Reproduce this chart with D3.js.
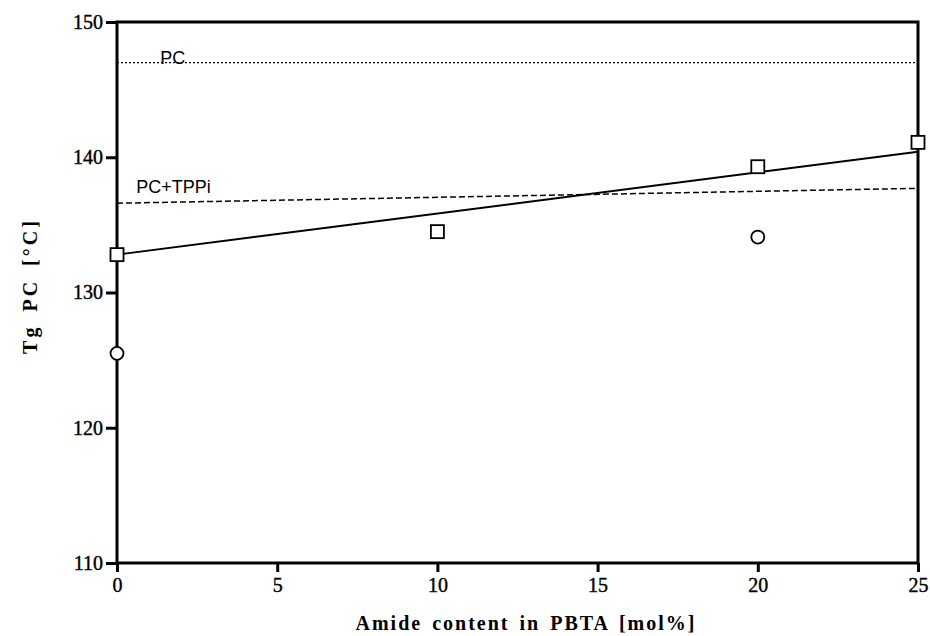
<!DOCTYPE html>
<html><head><meta charset="utf-8">
<script src="https://cdn.jsdelivr.net/npm/d3@7"></script>
<style>body{margin:0;background:#fff}svg{display:block}</style>
</head><body>
<script>
const xTicks = [0, 5, 10, 15, 20, 25];
const yTicks = [110, 120, 130, 140, 150];
const squareX = [0, 10, 20, 25];
const squareY = [132.8, 134.5, 139.3, 141.1];
const circleX = [0, 20];
const circleY = [125.5, 134.1];
const fitX = [0, 25];
const fitY = [132.8, 140.4];
const pcX = [0, 25];
const pcY = [147.0, 147.0];
const tppiX = [0, 25];
const tppiY = [136.6, 137.7];
const refLabels = ["PC", "PC+TPPi"];
const xTitle = "Amide content in PBTA [mol%]";
const yTitle = "Tg PC [°C]";

const W = 930, H = 636;
const m = {left: 117, right: 12, top: 22, bottom: 73};
const svg = d3.select("body").append("svg").attr("width", W).attr("height", H);
const x = d3.scaleLinear().domain([0, 25]).range([m.left, W - m.right]);
const y = d3.scaleLinear().domain([110, 150]).range([H - m.bottom, m.top]);

const serif = "'Liberation Serif','Times New Roman',serif";
const sans = "'Liberation Sans',Arial,sans-serif";

// axes
const xAxis = svg.append("g").attr("transform", `translate(0,${y(110)})`)
  .call(d3.axisBottom(x).tickValues(xTicks).tickSize(9).tickPadding(6).tickFormat(d3.format("d")));
const yAxis = svg.append("g").attr("transform", `translate(${x(0)},0)`)
  .call(d3.axisLeft(y).tickValues(yTicks).tickSize(11).tickPadding(3).tickFormat(d3.format("d")));
[xAxis, yAxis].forEach(g => {
  g.attr("font-family", serif).attr("font-size", 20);
  g.select(".domain").remove();
  g.selectAll(".tick line").attr("stroke", "#000").attr("stroke-width", 3);
  g.selectAll(".tick text").attr("fill", "#000").attr("stroke", "#000").attr("stroke-width", 0.4)
    .style("font-family", serif).style("font-size", "20px");
});
// frame
svg.append("rect").attr("x", x(0)).attr("y", y(150)).attr("width", x(25) - x(0)).attr("height", y(110) - y(150))
  .attr("fill", "none").attr("stroke", "#000").attr("stroke-width", 3);

const line = d3.line().x(d => x(d[0])).y(d => y(d[1]));
svg.append("path").datum(d3.zip(pcX, pcY)).attr("d", line)
  .attr("fill", "none").attr("stroke", "#000").attr("stroke-width", 1.3).attr("stroke-dasharray", "2,2");
svg.append("path").datum(d3.zip(tppiX, tppiY)).attr("d", line)
  .attr("fill", "none").attr("stroke", "#000").attr("stroke-width", 1.5).attr("stroke-dasharray", "6,3");
svg.append("path").datum(d3.zip(fitX, fitY)).attr("d", line)
  .attr("fill", "none").attr("stroke", "#000").attr("stroke-width", 2);

// labels on reference lines
svg.append("text").attr("x", x(1.35)).attr("y", y(pcY[0]) + 1).text(refLabels[0])
  .style("font-family", sans).style("font-size", "18px").attr("fill", "#000");
svg.append("text").attr("x", x(0.6)).attr("y", y(tppiY[0]) - 10).text(refLabels[1])
  .style("font-family", sans).style("font-size", "18px").attr("fill", "#000");

// markers
const sq = 13;
svg.append("g").selectAll("rect").data(d3.zip(squareX, squareY)).join("rect")
  .attr("x", d => x(d[0]) - sq / 2).attr("y", d => y(d[1]) - sq / 2)
  .attr("width", sq).attr("height", sq)
  .attr("fill", "#fff").attr("stroke", "#000").attr("stroke-width", 1.8);
svg.append("g").selectAll("circle").data(d3.zip(circleX, circleY)).join("circle")
  .attr("cx", d => x(d[0])).attr("cy", d => y(d[1])).attr("r", 6.5)
  .attr("fill", "#fff").attr("stroke", "#000").attr("stroke-width", 1.8);

// titles
svg.append("text").attr("x", 526).attr("y", 630).attr("text-anchor", "middle").text(xTitle)
  .style("font-family", serif).style("font-weight", "bold").style("font-size", "20px")
  .style("letter-spacing", "2px").style("word-spacing", "3px");
svg.append("text").attr("transform", "translate(37,286) rotate(-90)").attr("text-anchor", "middle").text(yTitle)
  .style("font-family", serif).style("font-weight", "bold").style("font-size", "20px")
  .style("letter-spacing", "3px").style("word-spacing", "5px");
</script>
</body></html>
